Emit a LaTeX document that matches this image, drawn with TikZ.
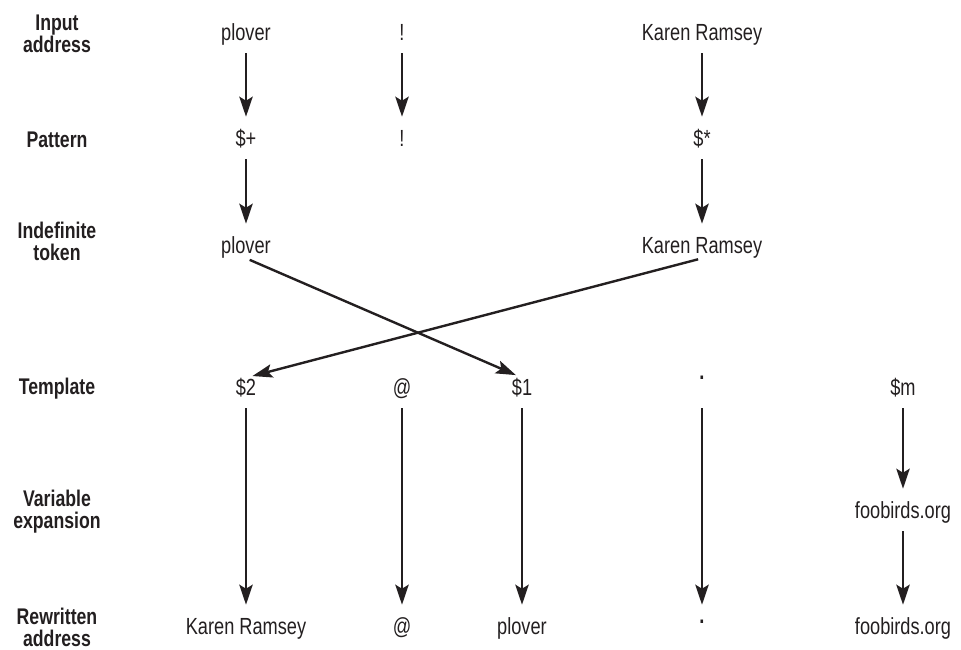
\documentclass[tikz,border=0pt]{standalone}
\usepackage{fontspec}
\setmainfont{Liberation Sans}[FakeStretch=0.78]
\usetikzlibrary{arrows.meta}
\definecolor{ink}{HTML}{231F20}
\tikzset{
  val/.style={anchor=base, inner sep=0pt, text height=12.75pt, text depth=3.75pt,
    text=ink, font=\fontsize{17.5}{17}\selectfont},
  lbl/.style={anchor=base, align=center, inner sep=0pt, text=ink,
    font=\fontsize{17}{16.5}\selectfont\bfseries},
  flow/.style={draw=ink, line width=1.8pt,
    -{Stealth[length=15pt, width=10pt, inset=3pt]}, shorten <=6pt, shorten >=9pt},
  crossflow/.style={flow, shorten <=3pt, shorten >=5pt}
}

\begin{document}
\begin{tikzpicture}[x=0.75pt, y=-0.75pt]
    \useasboundingbox (0,0) rectangle (961,650);

    % row labels (base = last line)
    \node[lbl] (l1) at (57,52) {Input\\address};
    \node[lbl] (l2) at (57,147) {Pattern};
    \node[lbl] (l3) at (57,260) {Indefinite\\token};
    \node[lbl] (l4) at (57,394) {Template};
    \node[lbl] (l5) at (57,528) {Variable\\expansion};
    \node[lbl] (l6) at (57,646) {Rewritten\\address};

    % values
    \node[val] (in1) at (246,40) {plover};
    \node[val] (in2) at (402,40) {!};
    \node[val] (in3) at (702,40) {Karen Ramsey};
    \node[val] (pat1) at (246,146) {\$+};
    \node[val] (pat2) at (402,146) {!};
    \node[val] (pat3) at (702,146) {\$*};
    \node[val] (tok1) at (246,253) {plover};
    \node[val] (tok3) at (702,253) {Karen Ramsey};
    \node[val] (tpl1) at (246,395) {\$2};
    \node[val] (tpl2) at (402,395) {@};
    \node[val] (tpl3) at (522,395) {\$1};
    \node[val] (tpl4) at (702,395) {\raisebox{12pt}{\bfseries .}};
    \node[val] (tpl5) at (903,395) {\$m};
    \node[val] (exp5) at (903,518) {foobirds.org};
    \node[val] (out1) at (246,634) {Karen Ramsey};
    \node[val] (out2) at (402,634) {@};
    \node[val] (out3) at (522,634) {plover};
    \node[val] (out4) at (702,634) {\raisebox{8pt}{\bfseries .}};
    \node[val] (out5) at (903,634) {foobirds.org};

    \draw[flow] (in1.south) -- (pat1.north);
    \draw[flow] (in2.south) -- (pat2.north);
    \draw[flow] (in3.south) -- (pat3.north);
    \draw[flow] (pat1.south) -- (tok1.north);
    \draw[flow] (pat3.south) -- (tok3.north);

    % tokens swap places
    \draw[crossflow] (tok1.south) -- (tpl3.north);
    \draw[crossflow] (tok3.south) -- (tpl1.north);

    \draw[flow] (tpl1.south) -- (out1.north);
    \draw[flow] (tpl2.south) -- (out2.north);
    \draw[flow] (tpl3.south) -- (out3.north);
    \draw[flow] (tpl4.south) -- (out4.north);
    \draw[flow] (tpl5.south) -- (exp5.north);
    \draw[flow] (exp5.south) -- (out5.north);
\end{tikzpicture}
\end{document}
